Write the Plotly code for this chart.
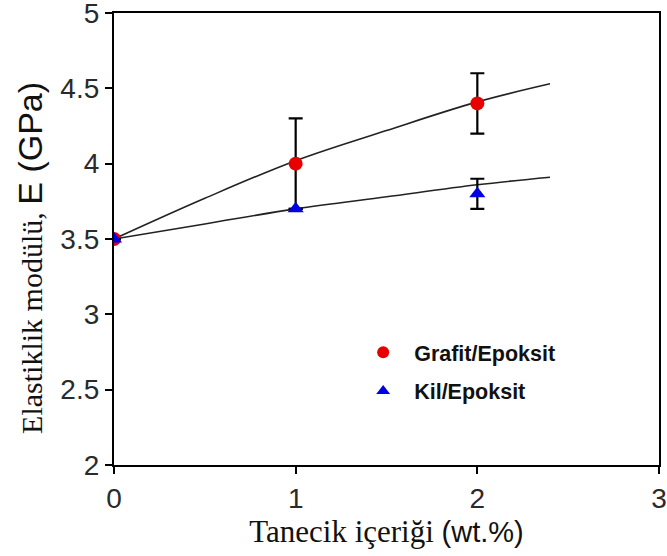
import plotly.graph_objects as go

# Data
x_points = [0, 1, 2]
grafit_E = [3.5, 4.0, 4.4]
grafit_err = [0, 0.3, 0.2]
kil_E = [3.5, 3.7, 3.8]
kil_err = [0, 0, 0.1]

# Fitted trend curves as drawn in the reference
curve_x = [0, 0.5, 1, 1.5, 2, 2.4]
grafit_curve = [3.5, 3.77, 4.02, 4.22, 4.41, 4.53]
kil_curve = [3.5, 3.60, 3.70, 3.78, 3.86, 3.91]

x_ticks = [0, 1, 2, 3]
y_ticks = [2, 2.5, 3, 3.5, 4, 4.5, 5]

fig = go.Figure()

fig.add_trace(go.Scatter(x=curve_x, y=grafit_curve, mode="lines", line=dict(color="#222", width=1.6, shape="spline"),
                         showlegend=False, hoverinfo="skip"))
fig.add_trace(go.Scatter(x=curve_x, y=kil_curve, mode="lines", line=dict(color="#222", width=1.6, shape="spline"),
                         showlegend=False, hoverinfo="skip"))

fig.add_trace(go.Scatter(
    x=x_points, y=grafit_E, mode="markers", name="Grafit/Epoksit", legendgroup="g",
    marker=dict(symbol="circle", size=14, color="#e80000"),
    error_y=dict(type="data", array=grafit_err, visible=True, color="black", thickness=2.2, width=7),
))
fig.add_trace(go.Scatter(
    x=x_points, y=kil_E, mode="markers", name="Kil/Epoksit", legendgroup="k",
    marker=dict(symbol="triangle-up", size=14, color="#0000e6"),
    error_y=dict(type="data", array=kil_err, visible=True, color="black", thickness=2.2, width=7),
))

axis_common = dict(showline=True, linecolor="black", linewidth=2.2, mirror=True, ticks="outside",
                   ticklen=7, tickwidth=1.5, tickcolor="black", showgrid=False, zeroline=False,
                   automargin=False, ticklabeloverflow="allow",
                   tickfont=dict(family="Liberation Sans, Arial", size=28, color="#2a2a2a"))

fig.update_xaxes(range=[0, 3], tickvals=x_ticks, ticktext=[str(v) for v in x_ticks],
                 title=dict(text="Tanecik içeriği <span style='font-family:Liberation Sans, Arial; font-size:29px'>(wt.%)</span>",
                            font=dict(family="Liberation Serif, Times New Roman", size=31, color="#111"), standoff=0),
                 **axis_common)
fig.update_yaxes(range=[2, 5], tickvals=y_ticks, ticktext=[f"{v:g}" for v in y_ticks],
                 title=dict(text="Elastiklik modülü, <span style='font-family:Liberation Sans, Arial; font-size:34px'>E (GPa)&nbsp;&nbsp;&nbsp;&nbsp;</span>",
                            font=dict(family="Liberation Serif, Times New Roman", size=30, color="#111"), standoff=9),
                 **axis_common)

fig.update_layout(
    width=667, height=556,
    margin=dict(l=114, r=8, t=13, b=91),
    plot_bgcolor="white", paper_bgcolor="white",
    legend=dict(x=0.437, y=0.295, xanchor="left", yanchor="top", bgcolor="rgba(0,0,0,0)",
                font=dict(family="Liberation Sans, Arial", size=21.5, color="#111", weight="bold"),
                tracegroupgap=8, itemsizing="constant", itemwidth=52),
    showlegend=True,
)

# remove the browser's default body margin so the figure sits at the window's corner
fig.write_html("out.html", config={"displayModeBar": False},
               post_script="document.body.style.margin='0px';")
